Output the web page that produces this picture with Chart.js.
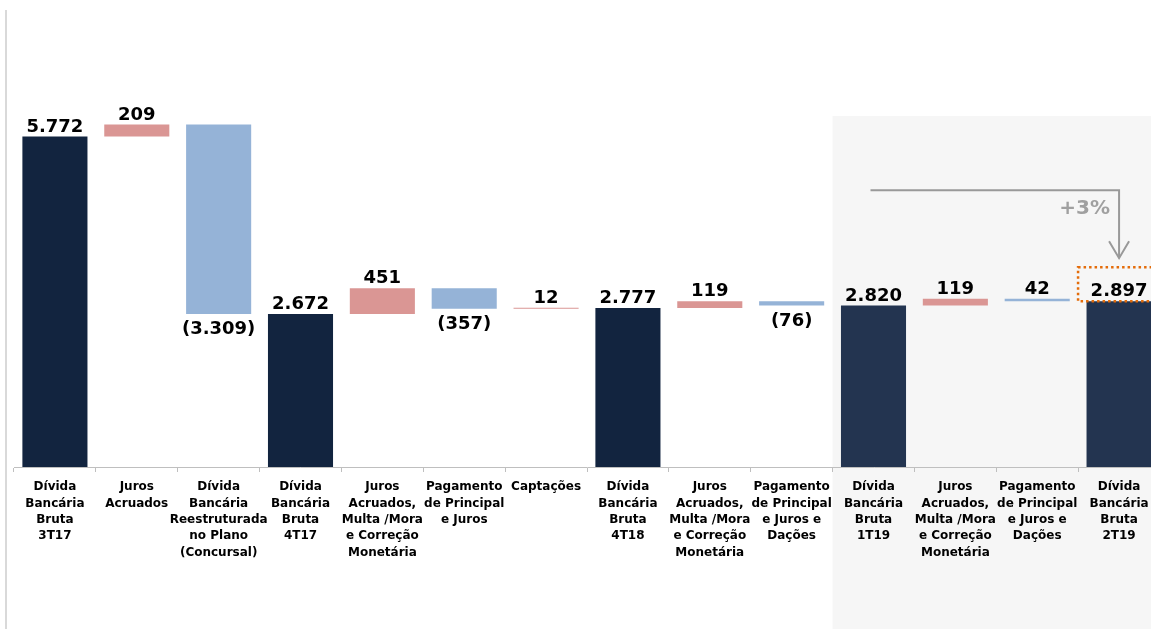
<!DOCTYPE html>
<html lang="pt-BR">
<head>
<meta charset="utf-8">
<title>Dívida Bancária Bruta</title>
<script src="https://cdn.jsdelivr.net/npm/chart.js@4.4.1/dist/chart.umd.min.js"></script>
<style>
    html, body { margin: 0; padding: 0; background: #fff; overflow: hidden; }
    #wrap { position: relative; width: 1151px; height: 629px; overflow: hidden; }
    #bridgeChart { position: absolute; left: 0; top: 0; }
</style>
</head>
<body>
<div id="wrap"><canvas id="bridgeChart" width="1160" height="629"></canvas></div>
<script>
/* ========================================
   Data
   ======================================== */

const categories = [
    ['Dívida', 'Bancária', 'Bruta', '3T17'],
    ['Juros', 'Acruados'],
    ['Dívida', 'Bancária', 'Reestruturada', 'no Plano', '(Concursal)'],
    ['Dívida', 'Bancária', 'Bruta', '4T17'],
    ['Juros', 'Acruados,', 'Multa /Mora', 'e Correção', 'Monetária'],
    ['Pagamento', 'de Principal', 'e Juros'],
    ['Captações'],
    ['Dívida', 'Bancária', 'Bruta', '4T18'],
    ['Juros', 'Acruados,', 'Multa /Mora', 'e Correção', 'Monetária'],
    ['Pagamento', 'de Principal', 'e Juros e', 'Dações'],
    ['Dívida', 'Bancária', 'Bruta', '1T19'],
    ['Juros', 'Acruados,', 'Multa /Mora', 'e Correção', 'Monetária'],
    ['Pagamento', 'de Principal', 'e Juros e', 'Dações'],
    ['Dívida', 'Bancária', 'Bruta', '2T19']
];

const values = [5772, 209, -3309, 2672, 451, -357, 12, 2777, 119, -76, 2820, 119, -42, 2897];
const kinds = ['total', 'up', 'down', 'total', 'up', 'down', 'up', 'total', 'up', 'down', 'total', 'up', 'down', 'total'];
const labelBelow = [false, false, true, false, false, true, false, false, false, true, false, false, false, false];

const growthText = '+3%';
const highlightFrom = 10;   // first category of the shaded period

/* ========================================
   Helpers
   ======================================== */

const COLORS = {
    total: '#12243f',
    totalLight: '#233450',
    up: '#da9694',
    down: '#95b3d7'
};

function buildRanges() {
    let run = 0;
    return values.map(function (v, i) {
        if (kinds[i] === 'total') {
            run = v;
            return [0, v];
        }
        const start = run;
        run += v;
        return [Math.min(start, run), Math.max(start, run)];
    });
}

function formatValue(v, i) {
    const s = Math.abs(v).toLocaleString('de-DE');
    return (v < 0 && labelBelow[i]) ? '(' + s + ')' : s;
}

function barColor(i) {
    if (kinds[i] === 'total') return i >= highlightFrom ? COLORS.totalLight : COLORS.total;
    return COLORS[kinds[i]];
}

/* ========================================
   Decorations plugin
   ======================================== */

const decorPlugin = {
    id: 'decor',
    beforeDraw: function (chart) {
        const ctx = chart.ctx;
        const x = chart.scales.x;
        const y = chart.scales.y;
        const step = x.getPixelForValue(1) - x.getPixelForValue(0);

        ctx.save();
        // shaded period
        const sx = x.getPixelForValue(highlightFrom) - step / 2;
        const sy = y.getPixelForValue(6130);
        ctx.fillStyle = '#f6f6f6';
        ctx.fillRect(sx, sy, chart.width - sx, chart.height - sy);

        // left frame line
        ctx.fillStyle = '#d9d9d9';
        ctx.fillRect(5, 10, 2, chart.height - 10);
        ctx.restore();
    },
    afterDatasetsDraw: function (chart) {
        const ctx = chart.ctx;
        const meta = chart.getDatasetMeta(0);

        ctx.save();
        ctx.font = 'bold 18px "DejaVu Sans"';
        ctx.fillStyle = '#000';
        ctx.textAlign = 'center';
        ctx.textBaseline = 'alphabetic';

        meta.data.forEach(function (bar, i) {
            const top = Math.min(bar.y, bar.base);
            const bottom = Math.max(bar.y, bar.base);
            const text = formatValue(values[i], i);
            if (labelBelow[i]) {
                ctx.fillText(text, bar.x, bottom + 20);
            } else {
                ctx.fillText(text, bar.x, top - 5);
            }
        });

        // growth arrow
        const first = meta.data[highlightFrom];
        const last = meta.data[meta.data.length - 1];
        const lastTop = Math.min(last.y, last.base);
        const lineY = lastTop - 111;
        const tipY = lastTop - 43;

        ctx.strokeStyle = '#999999';
        ctx.lineWidth = 2;
        ctx.beginPath();
        ctx.moveTo(first.x - 3, lineY);
        ctx.lineTo(last.x, lineY);
        ctx.lineTo(last.x, tipY);
        ctx.stroke();
        ctx.beginPath();
        ctx.moveTo(last.x - 10, tipY - 17);
        ctx.lineTo(last.x, tipY);
        ctx.lineTo(last.x + 10, tipY - 17);
        ctx.stroke();

        ctx.fillStyle = '#a0a0a0';
        ctx.font = 'bold 20px "DejaVu Sans"';
        ctx.textAlign = 'right';
        ctx.fillText(growthText, last.x - 9, lineY + 24);

        // dotted box around final value
        ctx.strokeStyle = '#e46c0a';
        ctx.lineWidth = 2.5;
        ctx.setLineDash([2.5, 3]);
        ctx.strokeRect(last.x - 41, lastTop - 34, 90, 34);
        ctx.restore();
    }
};

/* ========================================
   Chart
   ======================================== */

function initBridgeChart() {
    const canvas = document.getElementById('bridgeChart');
    if (!canvas) return;

    new Chart(canvas.getContext('2d'), {
        type: 'bar',
        data: {
            labels: categories,
            datasets: [{
                data: buildRanges(),
                backgroundColor: values.map(function (v, i) { return barColor(i); }),
                borderWidth: 0,
                borderSkipped: false,
                barPercentage: 0.795,
                categoryPercentage: 1,
                minBarLength: 1
            }]
        },
        options: {
            responsive: false,
            animation: false,
            layout: { padding: { top: 9, left: 14, right: 0, bottom: 0 } },
            plugins: {
                legend: { display: false },
                tooltip: { enabled: false }
            },
            scales: {
                y: {
                    display: false,
                    min: 0,
                    max: 8000
                },
                x: {
                    afterFit: function (scale) { scale.height = 162; },
                    grid: {
                        offset: true,
                        drawOnChartArea: false,
                        tickLength: 5,
                        color: '#bfbfbf'
                    },
                    border: { color: '#bfbfbf', width: 1 },
                    ticks: {
                        autoSkip: false,
                        maxRotation: 0,
                        padding: 7,
                        color: '#000',
                        font: { family: '"DejaVu Sans"', size: 12, weight: 'bold', lineHeight: 1.36 }
                    }
                }
            }
        },
        plugins: [decorPlugin]
    });
}

initBridgeChart();
</script>
</body>
</html>
